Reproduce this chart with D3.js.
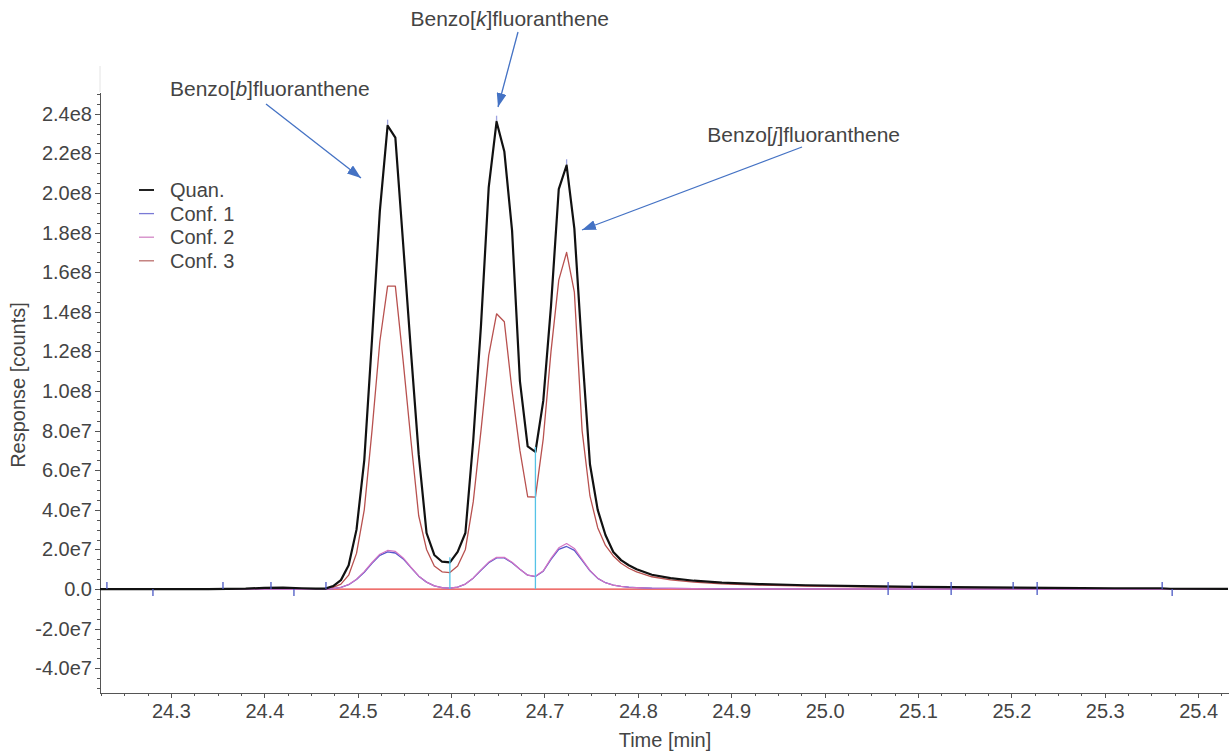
<!DOCTYPE html>
<html lang="en">
<head>
<meta charset="UTF-8">
<title>Benzofluoranthenes - chromatogram</title>
<style>
  body { margin: 0; background: #fff; }
  text { font-family: "Liberation Sans", Arial, Helvetica, sans-serif; fill: #444; }
  .axis path, .axis line { stroke: #555; shape-rendering: crispEdges; }
  .axis text { font-size: 20px; fill: #444; font-family: "Liberation Sans", Arial, sans-serif; }
  .trace { fill: none; stroke-linejoin: round; }
</style>
</head>
<body>
<svg id="chart" width="1231" height="753"></svg>
<script src="https://d3js.org/d3.v7.min.js"></script>
<script>
// retention time [min]
const times = [
  24.224, 24.28, 24.34, 24.38, 24.40, 24.42, 24.44, 24.455,
  24.4653, 24.4737, 24.4820, 24.4903, 24.4987, 24.5070, 24.5153, 24.5237, 24.5320, 24.5403,
  24.5487, 24.5570, 24.5653, 24.5737, 24.5820, 24.5903, 24.5987, 24.6070, 24.6153, 24.6237,
  24.6320, 24.6403, 24.6487, 24.6570, 24.6653, 24.6737, 24.6820, 24.6903, 24.6987, 24.7070,
  24.7153, 24.7237, 24.7320, 24.7403, 24.7487, 24.7570, 24.7653, 24.7737, 24.7820,
  24.7903, 24.7987, 24.815, 24.835, 24.86, 24.89, 24.93, 24.98, 25.04, 25.10, 25.17, 25.24,
  25.31, 25.36, 25.37, 25.432
];

// response [counts]
const quan = [
  0, 0, 0, 2e5, 6e5, 7e5, 4e5, 2e5,
  2e5, 1.5e6, 4.5e6, 1.2e7, 3.0e7, 6.5e7, 1.26e8, 1.91e8, 2.34e8, 2.28e8,
  1.74e8, 1.2e8, 6.8e7, 2.83e7, 1.72e7, 1.38e7, 1.35e7, 1.88e7, 2.83e7, 7.5e7,
  1.33e8, 2.03e8, 2.36e8, 2.21e8, 1.81e8, 1.05e8, 7.2e7, 6.93e7, 9.5e7, 1.43e8,
  2.02e8, 2.14e8, 1.82e8, 1.2e8, 6.3e7, 4.0e7, 2.73e7, 1.87e7, 1.46e7,
  1.2e7, 1.0e7, 7.2e6, 5.5e6, 4.2e6, 3.2e6, 2.5e6, 1.9e6, 1.5e6, 1.1e6, 8e5, 6e5,
  4e5, 4e5, 1.5e5, 1e5
];
const conf1 = [
  0, 0, 0, 0, 0, 0, 0, 0,
  0, 2e5, 8e5, 2.2e6, 4.8e6, 8.5e6, 1.3e7, 1.7e7, 1.88e7, 1.82e7,
  1.52e7, 1.08e7, 6.5e6, 3.5e6, 1.6e6, 7e5, 5e5, 1.0e6, 2.5e6, 5.5e6,
  9.5e6, 1.33e7, 1.57e7, 1.57e7, 1.33e7, 1.0e7, 7.0e6, 6.3e6, 9.0e6, 1.5e7,
  2.0e7, 2.15e7, 1.95e7, 1.45e7, 9.2e6, 5.4e6, 3.2e6, 2.0e6, 1.3e6,
  9e5, 7e5, 4e5, 3e5, 2e5, 1.5e5, 1e5, 1e5, 5e4, 0, 0, 0,
  0, 0, 0, 0
];
const conf2 = [
  0, 0, 0, 0, 0, 0, 0, 0,
  0, 2e5, 8e5, 2.3e6, 5.0e6, 8.8e6, 1.34e7, 1.76e7, 1.95e7, 1.9e7,
  1.57e7, 1.1e7, 6.6e6, 3.5e6, 1.6e6, 7e5, 5e5, 1.0e6, 2.5e6, 5.6e6,
  9.7e6, 1.36e7, 1.6e7, 1.6e7, 1.35e7, 1.0e7, 7.0e6, 6.4e6, 9.2e6, 1.55e7,
  2.08e7, 2.3e7, 2.05e7, 1.5e7, 9.4e6, 5.5e6, 3.2e6, 2.0e6, 1.3e6,
  9e5, 7e5, 4e5, 3e5, 2e5, 1.5e5, 1e5, 1e5, 5e4, 0, 0, 0,
  0, 0, 0, 0
];
const conf3 = [
  0, 0, 0, 1e5, 3e5, 3e5, 2e5, 1e5,
  1e5, 8e5, 2.5e6, 7e6, 1.8e7, 4.0e7, 8.0e7, 1.25e8, 1.53e8, 1.53e8,
  1.15e8, 7.5e7, 3.7e7, 2.0e7, 1.16e7, 8.7e6, 8.3e6, 1.16e7, 2.0e7, 4.4e7,
  8.0e7, 1.18e8, 1.39e8, 1.35e8, 1.0e8, 7.0e7, 4.66e7, 4.64e7, 7.6e7, 1.2e8,
  1.56e8, 1.70e8, 1.50e8, 8.0e7, 4.7e7, 3.1e7, 2.2e7, 1.67e7, 1.3e7,
  1.05e7, 8.7e6, 6.2e6, 4.6e6, 3.5e6, 2.6e6, 2.0e6, 1.5e6, 1.1e6, 8e5, 5e5, 3e5,
  2e5, 1e5, 1e5, 0
];

const seriesNames = ["Quan.", "Conf. 1", "Conf. 2", "Conf. 3"];
const xTickValues = [24.3, 24.4, 24.5, 24.6, 24.7, 24.8, 24.9, 25.0, 25.1, 25.2, 25.3, 25.4];
const yTickValues = [-4e7, -2e7, 0, 2e7, 4e7, 6e7, 8e7, 1e8, 1.2e8, 1.4e8, 1.6e8, 1.8e8, 2e8, 2.2e8, 2.4e8];

// peak apex / valley points (index into times)
const apexIdx = [16, 30, 39];
const valleyIdx = [24, 35];
// integration markers on the baseline
const markerTimes = [24.2314, 24.2807, 24.3557, 24.4071, 24.4317, 24.466, 25.068, 25.0937, 25.1355, 25.2019, 25.2276, 25.3615, 25.3722];
const markerKinds = ["up", "down", "up", "up", "down", "up", "cross", "up", "cross", "up", "cross", "up", "down"];

const compounds = ["Benzo[b]fluoranthene", "Benzo[k]fluoranthene", "Benzo[j]fluoranthene"];

// ---- layout
const svg = d3.select("#chart");
const plotLeft = 100, plotRight = 1228, plotTop = 92, plotBottom = 693;

const x = d3.scaleLinear().domain([24.224, 25.432]).range([plotLeft, plotRight]);
const y = d3.scaleLinear().domain([-5.25e7, 2.51e8]).range([plotBottom, plotTop]);

function fmtE(v) {
  if (v === 0) return "0.0";
  const e = Math.floor(Math.log10(Math.abs(v)) + 1e-9);
  return (v / Math.pow(10, e)).toFixed(1) + "e" + e;
}

// faint extension of the frame above the y axis
svg.append("line")
  .attr("x1", plotLeft).attr("x2", plotLeft)
  .attr("y1", 66).attr("y2", plotTop)
  .attr("stroke", "#e4e4e4").attr("stroke-width", 1);

// minor ticks
svg.append("g").attr("class", "axis")
  .attr("transform", `translate(0,${plotBottom})`)
  .call(d3.axisBottom(x).tickValues(d3.range(24.225, 25.431, 0.025)).tickSize(3).tickFormat(""))
  .select(".domain").remove();
svg.append("g").attr("class", "axis")
  .attr("transform", `translate(${plotLeft},0)`)
  .call(d3.axisLeft(y).tickValues(d3.range(-5e7, 2.5e8 + 1, 5e6)).tickSize(3).tickFormat(""))
  .select(".domain").remove();

// major axes
svg.append("g").attr("class", "axis")
  .attr("transform", `translate(0,${plotBottom})`)
  .call(d3.axisBottom(x).tickValues(xTickValues).tickSize(5).tickSizeOuter(0).tickPadding(6).tickFormat(d3.format(".1f")));
svg.append("g").attr("class", "axis")
  .attr("transform", `translate(${plotLeft},0)`)
  .call(d3.axisLeft(y).tickValues(yTickValues).tickSize(5).tickSizeOuter(0).tickPadding(3).tickFormat(fmtE));

svg.append("text")
  .attr("x", 665).attr("y", 747)
  .attr("text-anchor", "middle")
  .style("font-size", "20px")
  .text("Time [min]");
svg.append("text")
  .attr("transform", "translate(25,385) rotate(-90)")
  .attr("text-anchor", "middle")
  .style("font-size", "20px")
  .text("Response [counts]");

// ---- traces
const line = d3.line().x((d, i) => x(times[i])).y(d => y(d));

svg.append("line")
  .attr("x1", x(24.224)).attr("x2", x(25.432))
  .attr("y1", y(0)).attr("y2", y(0))
  .attr("stroke", "#e8413c").attr("stroke-width", 1.3);

const traces = [
  { data: conf3, color: "#b8514f", width: 1.3 },
  { data: conf1, color: "#5656cc", width: 1.3 },
  { data: conf2, color: "#d274c4", width: 1.2 },
  { data: quan,  color: "#111111", width: 2.2 }
];
traces.forEach(t => {
  svg.append("path").attr("class", "trace")
    .attr("d", line(t.data))
    .attr("stroke", t.color)
    .attr("stroke-width", t.width);
});

// valley drop lines
valleyIdx.forEach(i => {
  svg.append("line")
    .attr("x1", x(times[i])).attr("x2", x(times[i]))
    .attr("y1", y(quan[i]) - 5).attr("y2", y(0))
    .attr("stroke", "#55c3e6").attr("stroke-width", 1.3);
});

// apex markers
apexIdx.forEach(i => {
  svg.append("line")
    .attr("x1", x(times[i])).attr("x2", x(times[i]))
    .attr("y1", y(quan[i]) - 6).attr("y2", y(quan[i]) - 1)
    .attr("stroke", "#9ea3e0").attr("stroke-width", 1.3);
});

// baseline markers
markerTimes.forEach((t, i) => {
  const k = markerKinds[i];
  const y0 = y(0);
  const [a, b] = k === "up" ? [y0 - 7, y0] : k === "down" ? [y0, y0 + 7] : [y0 - 7, y0 + 6];
  svg.append("line")
    .attr("x1", x(t)).attr("x2", x(t))
    .attr("y1", a).attr("y2", b)
    .attr("stroke", "#4b58c4").attr("stroke-width", 1.3);
});

// ---- legend
const legendColors = ["#222", "#7a7ad6", "#d286c6", "#bb6e6c"];
seriesNames.forEach((name, i) => {
  const yy = 190 + i * 23.6;
  svg.append("line")
    .attr("x1", 139).attr("x2", 154)
    .attr("y1", yy).attr("y2", yy)
    .attr("stroke", legendColors[i]).attr("stroke-width", i === 0 ? 2 : 1.3);
  svg.append("text")
    .attr("x", 170).attr("y", yy + 7)
    .style("font-size", "20px")
    .text(name);
});

// ---- annotations
svg.append("defs").append("marker")
  .attr("id", "arrow")
  .attr("viewBox", "0 0 14 10")
  .attr("refX", 14).attr("refY", 5)
  .attr("markerWidth", 14).attr("markerHeight", 10)
  .attr("markerUnits", "userSpaceOnUse")
  .attr("orient", "auto")
  .append("path").attr("d", "M0,0 L14,5 L0,10 Z").attr("fill", "#4472c4");

const notes = [
  { label: compounds[0], tx: 170, ty: 96, anchor: "start", from: [266, 104], to: [361, 178] },
  { label: compounds[1], tx: 609, ty: 26, anchor: "end", from: [518, 32], to: [498, 107] },
  { label: compounds[2], tx: 900, ty: 142, anchor: "end", from: [802, 147], to: [582, 230] }
];
notes.forEach(n => {
  const m = n.label.match(/^(.*\[)(.)(\].*)$/);
  const t = svg.append("text")
    .attr("x", n.tx).attr("y", n.ty)
    .attr("text-anchor", n.anchor)
    .style("font-size", "21px");
  t.append("tspan").text(m[1]);
  t.append("tspan").style("font-style", "italic").text(m[2]);
  t.append("tspan").text(m[3]);
  svg.append("line")
    .attr("x1", n.from[0]).attr("y1", n.from[1])
    .attr("x2", n.to[0]).attr("y2", n.to[1])
    .attr("stroke", "#4472c4").attr("stroke-width", 1.3)
    .attr("marker-end", "url(#arrow)");
});
</script>
</body>
</html>
